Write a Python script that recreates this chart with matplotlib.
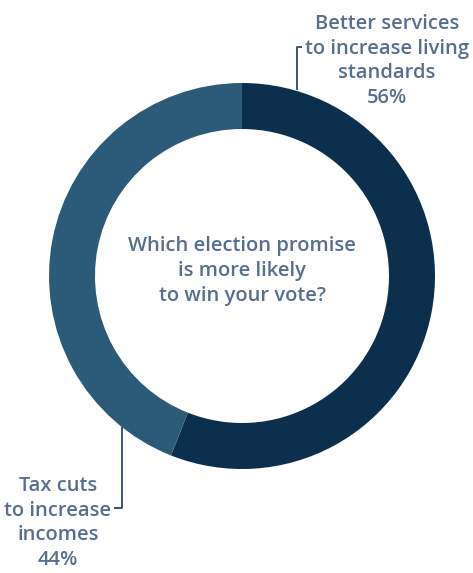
import matplotlib
matplotlib.use("Agg")
import matplotlib.pyplot as plt

# Survey result
categories = ["Better services\nto increase living\nstandards", "Tax cuts\nto increase\nincomes"]
shares = [56, 44]
colors = ["#0b2f4d", "#2c5b7a"]
question = "Which election promise\nis more likely\nto win your vote?"

W, H = 473, 573
fig = plt.figure(figsize=(W / 100, H / 100), dpi=100)
ax = fig.add_axes([0, 0, 1, 1])

cx, cy = 242, H - 276
r_out, ring = 193, 46

ax.pie(shares, radius=r_out, center=(cx, cy), startangle=90, counterclock=False,
       colors=colors, wedgeprops=dict(width=ring, linewidth=0))
ax.set_xlim(0, W)
ax.set_ylim(0, H)
ax.set_aspect("equal")
ax.axis("off")

txt_color = "#566f8e"
font = dict(family=["Open Sans", "DejaVu Sans"], color=txt_color, fontsize=14.5,
            fontweight="semibold", ha="center", va="center", linespacing=1.32)

# Centre question
ax.text(cx, H - 271, question, **font)

# Labels with percentages
ax.text(387, H - 61, f"{categories[0]}\n{shares[0]}%", **font)
ax.text(58, H - 523, f"{categories[1]}\n{shares[1]}%", **font)

# Leader lines
lc = dict(color="#3d5576", lw=1.4, solid_capstyle="butt")
ax.plot([302, 297, 297], [H - 47, H - 47, H - 90], **lc)
ax.plot([122, 122, 114], [H - 427, H - 508, H - 508], **lc)

fig.savefig("out.png", dpi=100)
